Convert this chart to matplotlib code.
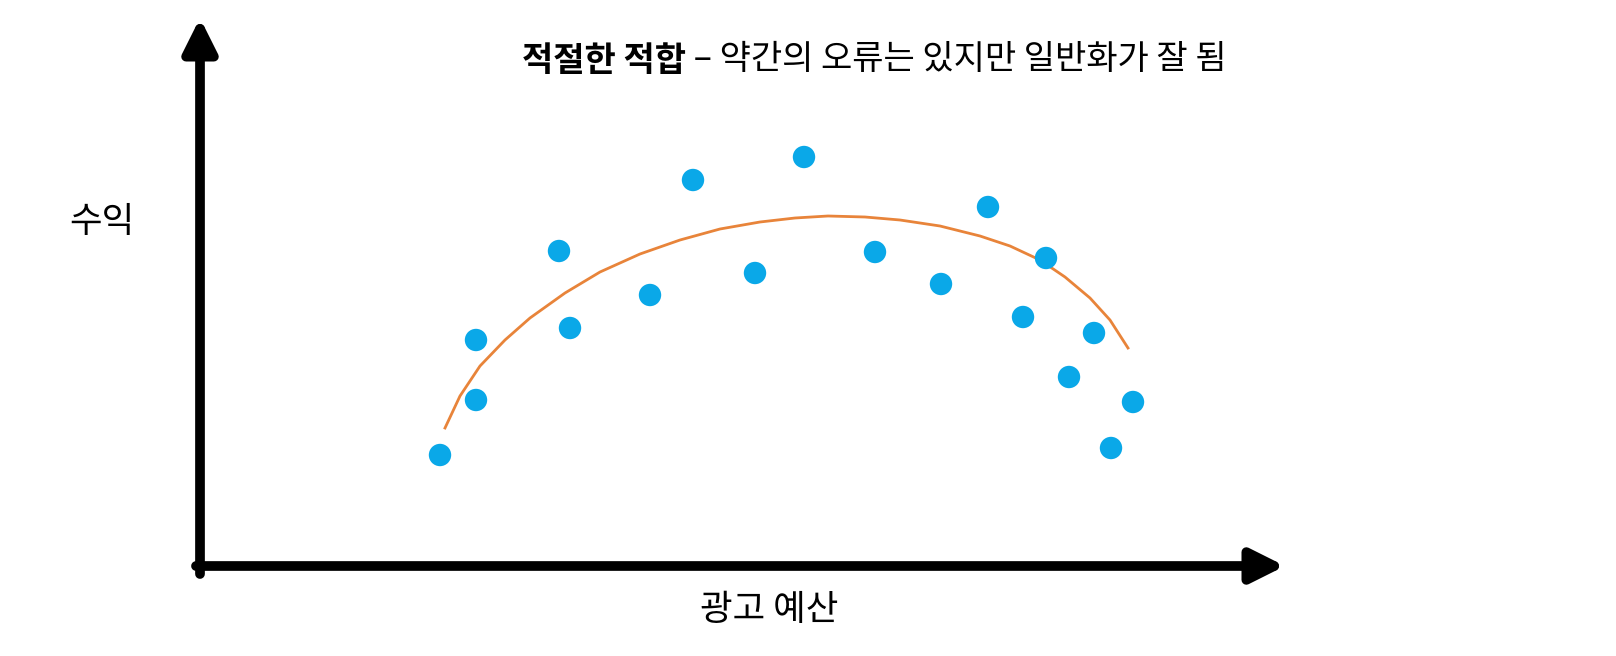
import matplotlib
matplotlib.use("Agg")
import matplotlib.pyplot as plt

plt.rcParams['font.family'] = ['Noto Sans CJK KR', 'DejaVu Sans']

# data (budget, revenue) in chart units
budget = [240, 276, 276, 359, 370, 450, 493, 555, 604, 675, 741, 788, 823, 846, 869, 894, 911, 933]
revenue = [115, 170, 230, 319, 242, 275, 390, 297, 413, 318, 286, 363, 253, 312, 193, 237, 122, 168]
fit_x = [245, 260, 280, 305, 330, 365, 400, 440, 480, 520, 560, 595, 628, 665, 700, 740, 780, 810, 840, 865, 890, 910, 928]
fit_y = [142, 174, 204, 230, 252, 277, 298, 316, 330, 341, 348, 352, 354, 353, 350, 344, 334, 324, 310, 293, 272, 250, 222]

title_bold = "적절한 적합"
title_rest = " – 약간의 오류는 있지만 일반화가 잘 됨"
xlabel = "광고 예산"
ylabel = "수익"

fig = plt.figure(figsize=(16.16, 6.56), dpi=100)
ax = fig.add_axes([0, 0, 1, 1])
ax.set_xlim(-200, 1416)
ax.set_ylim(-86, 570)
ax.axis('off')

ax.plot(fit_x, fit_y, color='#E8843A', lw=2, zorder=2, solid_joinstyle='round')
ax.scatter(budget, revenue, s=260, color='#0AA8E8', zorder=3, edgecolors='none')

ax.annotate('', xy=(0, 552), xytext=(0, -4),
            arrowprops=dict(arrowstyle='-|>,head_width=1.0,head_length=2.0', lw=7, color='black', shrinkA=0, shrinkB=0))
ax.annotate('', xy=(1085, 4), xytext=(-4, 4),
            arrowprops=dict(arrowstyle='-|>,head_width=1.0,head_length=2.0', lw=7, color='black', shrinkA=0, shrinkB=0))

fig.canvas.draw()
t = ax.text(322, 510, title_bold, fontsize=24.5, fontweight='bold', va='center', ha='left')
bb = t.get_window_extent(renderer=fig.canvas.get_renderer())
x_end = ax.transData.inverted().transform((bb.x1, bb.y0))[0]
ax.text(x_end, 510, title_rest, fontsize=24.5, va='center', ha='left')

ax.text(-98, 348, ylabel, fontsize=25.5, va='center', ha='center')
ax.text(569, -40, xlabel, fontsize=25.5, va='center', ha='center')

fig.savefig('out.png', dpi=100, facecolor='white')
